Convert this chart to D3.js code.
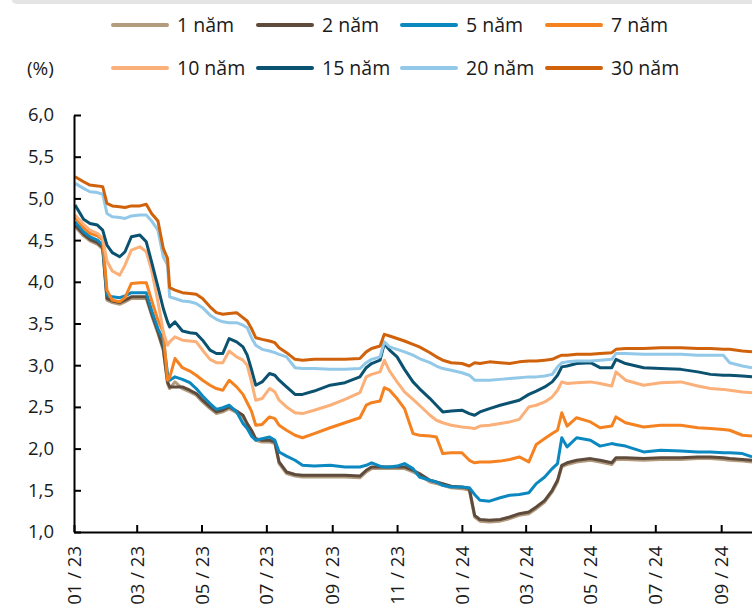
<!DOCTYPE html>
<html>
<head>
<meta charset="utf-8">
<script src="https://cdn.jsdelivr.net/npm/d3@7"></script>
<style>
  body { margin: 0; background: #fff; }
  svg { display: block; }
  text { font-family: "Open Sans", "Noto Sans", sans-serif; fill: #1a1a1a; }
</style>
</head>
<body>
<svg id="chart" width="752" height="609"></svg>
<script>
// Observation dates shared by every maturity
const dates = [
  "2023-01-02","2023-01-10","2023-01-16","2023-01-23","2023-01-28",
  "2023-02-01","2023-02-06","2023-02-13","2023-02-18","2023-02-24",
  "2023-03-04","2023-03-10","2023-03-15","2023-03-21","2023-03-26",
  "2023-03-30","2023-04-01","2023-04-06","2023-04-13","2023-04-20",
  "2023-04-26","2023-05-02","2023-05-09","2023-05-15","2023-05-21",
  "2023-05-27","2023-06-03","2023-06-09","2023-06-13","2023-06-17",
  "2023-06-21","2023-06-27","2023-07-04","2023-07-09","2023-07-13",
  "2023-07-20","2023-07-28","2023-08-04","2023-08-15","2023-08-30",
  "2023-09-13","2023-09-27","2023-10-03","2023-10-08","2023-10-16",
  "2023-10-20","2023-10-25","2023-11-01","2023-11-08","2023-11-16",
  "2023-11-22","2023-12-02","2023-12-08","2023-12-14","2023-12-22",
  "2024-01-01","2024-01-08","2024-01-13","2024-01-18","2024-01-27",
  "2024-02-06","2024-02-15","2024-02-24","2024-03-04","2024-03-11",
  "2024-03-19","2024-03-26","2024-03-31","2024-04-04","2024-04-09",
  "2024-04-18","2024-05-01","2024-05-10","2024-05-21","2024-05-25",
  "2024-06-03","2024-06-20","2024-07-06","2024-07-25","2024-08-10",
  "2024-08-22","2024-09-03","2024-09-09","2024-09-21","2024-09-30"
];

// Government bond yields (%) by maturity
const yield1 = [
  4.66,4.55,4.49,4.45,4.39, 3.78,3.75,3.73,3.76,3.80, 3.80,3.80,3.60,3.38,3.18,
  2.78,2.72,2.80,2.72,2.68, 2.64,2.56,2.48,2.42,2.44, 2.48,2.43,2.38,2.28,2.20,
  2.10,2.08,2.08,2.06,1.82, 1.70,1.67,1.66,1.66,1.66, 1.66,1.65,1.72,1.76,1.76,
  1.76,1.76,1.76,1.76,1.72, 1.68,1.60,1.58,1.56,1.53, 1.52,1.50,1.18,1.13,1.12,
  1.13,1.16,1.20,1.22,1.28, 1.36,1.48,1.60,1.78,1.81, 1.84,1.86,1.84,1.81,1.87,
  1.87,1.86,1.87,1.87,1.88, 1.88,1.87,1.86,1.85,1.84
];
const yield2 = [
  4.68,4.57,4.51,4.47,4.41, 3.80,3.77,3.75,3.78,3.82, 3.82,3.82,3.62,3.40,3.20,
  2.80,2.74,2.74,2.74,2.70, 2.66,2.58,2.50,2.44,2.46, 2.50,2.45,2.40,2.30,2.22,
  2.12,2.10,2.10,2.08,1.84, 1.72,1.69,1.68,1.68,1.68, 1.68,1.67,1.74,1.78,1.78,
  1.78,1.78,1.78,1.78,1.74, 1.70,1.62,1.60,1.58,1.55, 1.54,1.52,1.20,1.15,1.14,
  1.15,1.18,1.22,1.24,1.30, 1.38,1.50,1.62,1.80,1.83, 1.86,1.88,1.86,1.83,1.89,
  1.89,1.88,1.89,1.89,1.90, 1.90,1.89,1.88,1.87,1.86
];
const yield5 = [
  4.72,4.60,4.54,4.50,4.44, 3.84,3.82,3.81,3.83,3.87, 3.87,3.87,3.66,3.44,3.30,
  2.90,2.82,2.86,2.83,2.79, 2.72,2.63,2.54,2.47,2.49, 2.52,2.44,2.30,2.24,2.15,
  2.10,2.12,2.14,2.10,1.96, 1.91,1.86,1.80,1.79,1.80, 1.78,1.78,1.80,1.83,1.79,
  1.78,1.78,1.79,1.82,1.76, 1.66,1.62,1.60,1.56,1.54, 1.54,1.53,1.45,1.38,1.37,
  1.41,1.44,1.45,1.47,1.58, 1.66,1.76,1.82,2.13,2.02, 2.13,2.10,2.03,2.06,2.05,
  2.03,1.96,1.98,1.97,1.96, 1.96,1.95,1.95,1.94,1.90
];
const yield7 = [
  4.78,4.65,4.58,4.55,4.50, 3.90,3.78,3.76,3.81,3.98, 3.99,3.99,3.78,3.54,3.40,
  2.82,2.85,3.08,2.97,2.93, 2.88,2.82,2.76,2.72,2.70, 2.82,2.74,2.65,2.55,2.45,
  2.28,2.29,2.38,2.36,2.28, 2.22,2.16,2.13,2.18,2.25, 2.31,2.37,2.52,2.55,2.57,
  2.73,2.70,2.60,2.48,2.18, 2.16,2.15,2.14,1.94,1.95, 1.95,1.86,1.83,1.84,1.84,
  1.85,1.87,1.90,1.84,2.05, 2.12,2.18,2.22,2.43,2.27, 2.37,2.32,2.25,2.27,2.38,
  2.31,2.26,2.28,2.28,2.25, 2.24,2.23,2.22,2.16,2.15
];
const yield10 = [
  4.80,4.69,4.62,4.58,4.52, 4.25,4.13,4.08,4.20,4.38, 4.42,4.36,4.14,3.76,3.40,
  3.24,3.28,3.34,3.30,3.29, 3.28,3.18,3.07,3.03,3.03, 3.17,3.10,3.06,3.00,2.80,
  2.58,2.60,2.72,2.68,2.58, 2.50,2.43,2.42,2.46,2.52, 2.59,2.67,2.86,2.89,2.92,
  3.06,2.93,2.80,2.68,2.59, 2.52,2.40,2.34,2.31,2.28, 2.26,2.25,2.24,2.27,2.28,
  2.30,2.32,2.35,2.50,2.52, 2.56,2.62,2.70,2.80,2.78, 2.79,2.80,2.78,2.75,2.92,
  2.82,2.76,2.79,2.80,2.75, 2.72,2.71,2.70,2.68,2.67
];
const yield15 = [
  4.92,4.75,4.70,4.68,4.62, 4.44,4.35,4.30,4.36,4.54, 4.56,4.48,4.24,3.94,3.68,
  3.52,3.46,3.52,3.41,3.39, 3.38,3.30,3.18,3.14,3.14, 3.32,3.28,3.22,3.12,2.95,
  2.76,2.80,2.90,2.88,2.82, 2.74,2.65,2.65,2.69,2.76, 2.79,2.86,2.97,3.02,3.06,
  3.26,3.18,3.10,2.95,2.80, 2.72,2.60,2.52,2.44,2.45, 2.46,2.42,2.40,2.44,2.48,
  2.52,2.55,2.58,2.65,2.69, 2.74,2.80,2.88,2.98,2.99, 3.02,3.03,2.97,2.97,3.07,
  3.02,2.97,2.96,2.95,2.92, 2.89,2.88,2.88,2.87,2.86
];
const yield20 = [
  5.18,5.12,5.08,5.07,5.05, 4.82,4.78,4.77,4.76,4.79, 4.80,4.80,4.73,4.62,4.30,
  4.20,3.82,3.80,3.77,3.76, 3.74,3.69,3.60,3.55,3.52, 3.51,3.51,3.48,3.45,3.33,
  3.24,3.19,3.17,3.15,3.13, 3.10,2.97,2.96,2.96,2.95, 2.95,2.96,3.03,3.07,3.10,
  3.28,3.22,3.19,3.16,3.12, 3.08,3.03,2.99,2.96,2.94, 2.91,2.88,2.82,2.82,2.82,
  2.83,2.84,2.85,2.86,2.86, 2.87,2.89,2.98,3.03,3.04, 3.05,3.05,3.06,3.07,3.14,
  3.14,3.13,3.13,3.13,3.12, 3.12,3.12,3.03,2.99,2.97
];
const yield30 = [
  5.26,5.20,5.16,5.15,5.14, 4.94,4.91,4.90,4.89,4.91, 4.91,4.93,4.82,4.73,4.40,
  4.28,3.93,3.90,3.87,3.86, 3.85,3.80,3.70,3.63,3.61, 3.62,3.63,3.57,3.53,3.44,
  3.33,3.31,3.29,3.27,3.21, 3.15,3.07,3.06,3.07,3.07, 3.07,3.08,3.16,3.20,3.23,
  3.37,3.35,3.32,3.29,3.25, 3.22,3.15,3.10,3.06,3.03, 3.02,2.99,3.03,3.02,3.04,
  3.03,3.02,3.04,3.05,3.05, 3.06,3.07,3.10,3.12,3.12, 3.13,3.13,3.14,3.15,3.19,
  3.20,3.20,3.21,3.21,3.20, 3.20,3.19,3.19,3.17,3.16
];

const seriesNames = ["1 năm", "2 năm", "5 năm", "7 năm", "10 năm", "15 năm", "20 năm", "30 năm"];
const seriesValues = [yield1, yield2, yield5, yield7, yield10, yield15, yield20, yield30];
const seriesColors = ["#b39b7e", "#5e4b3c", "#0b88c0", "#f58220", "#fbb07a", "#0b5170", "#92c8e8", "#d0620c"];

const yTickValues = [1.0, 1.5, 2.0, 2.5, 3.0, 3.5, 4.0, 4.5, 5.0, 5.5, 6.0];
const xTickValues = ["2023-01-01", "2023-03-01", "2023-05-01", "2023-07-01", "2023-09-01", "2023-11-01",
                     "2024-01-01", "2024-03-01", "2024-05-01", "2024-07-01", "2024-09-01"];
const unitLabel = "(%)";

const parse = d3.timeParse("%Y-%m-%d");
const svg = d3.select("#chart");

// thin grey strip along the top edge
svg.append("path")
  .attr("d", "M12,0 H752 V4 H18 Q12,4 12,0 Z")
  .attr("fill", "#e4e4e4");

const x = d3.scaleTime()
  .domain([parse("2023-01-01"), parse("2024-09-30")])
  .range([74, 752]);
const y = d3.scaleLinear().domain([1, 6]).range([532, 115]);

// series lines
const line = d3.line()
  .x((d, i) => x(parse(dates[i])))
  .y(d => y(d));

svg.append("g").selectAll("path")
  .data(seriesValues)
  .join("path")
  .attr("d", d => line(d))
  .attr("fill", "none")
  .attr("stroke", (d, i) => seriesColors[i])
  .attr("stroke-width", 3)
  .attr("stroke-linejoin", "round");

// axes
const fmtNum = d => d.toFixed(1).replace(".", ",");
const yAxis = svg.append("g")
  .attr("transform", "translate(74,0)")
  .call(d3.axisLeft(y).tickValues(yTickValues).tickFormat(fmtNum)
    .tickSizeInner(-7).tickSizeOuter(0).tickPadding(20));

const xAxis = svg.append("g")
  .attr("transform", "translate(0,532)")
  .call(d3.axisBottom(x).tickValues(xTickValues.map(parse))
    .tickFormat(d3.timeFormat("%m / %y"))
    .tickSizeInner(-7).tickSizeOuter(0));

[yAxis, xAxis].forEach(g => {
  g.select(".domain").attr("stroke", "#000").attr("stroke-width", 2);
  g.selectAll(".tick line").attr("stroke", "#000").attr("stroke-width", 2);
  g.selectAll("text").style("font-size", "18.5px").attr("fill", "#1a1a1a");
});

xAxis.selectAll(".tick text")
  .attr("transform", "rotate(-90)")
  .attr("text-anchor", "end")
  .attr("x", -14)
  .attr("y", 0)
  .attr("dy", "0.35em");

// legend in two rows of four
const legend = svg.append("g");
const colX = [113, 258, 402, 547];
const rowY = [25, 68];
seriesNames.forEach((name, i) => {
  const cx = colX[i % 4], cy = rowY[Math.floor(i / 4)];
  legend.append("line")
    .attr("x1", cx).attr("x2", cx + 54)
    .attr("y1", cy).attr("y2", cy)
    .attr("stroke", seriesColors[i])
    .attr("stroke-width", 4)
    .attr("stroke-linecap", "round");
  legend.append("text")
    .attr("x", cx + 64).attr("y", cy)
    .attr("dy", "0.35em")
    .style("font-size", "19.5px")
    .text(name);
});

svg.append("text")
  .attr("x", 27).attr("y", 68)
  .attr("dy", "0.35em")
  .style("font-size", "19px")
  .text(unitLabel);
</script>
</body>
</html>
